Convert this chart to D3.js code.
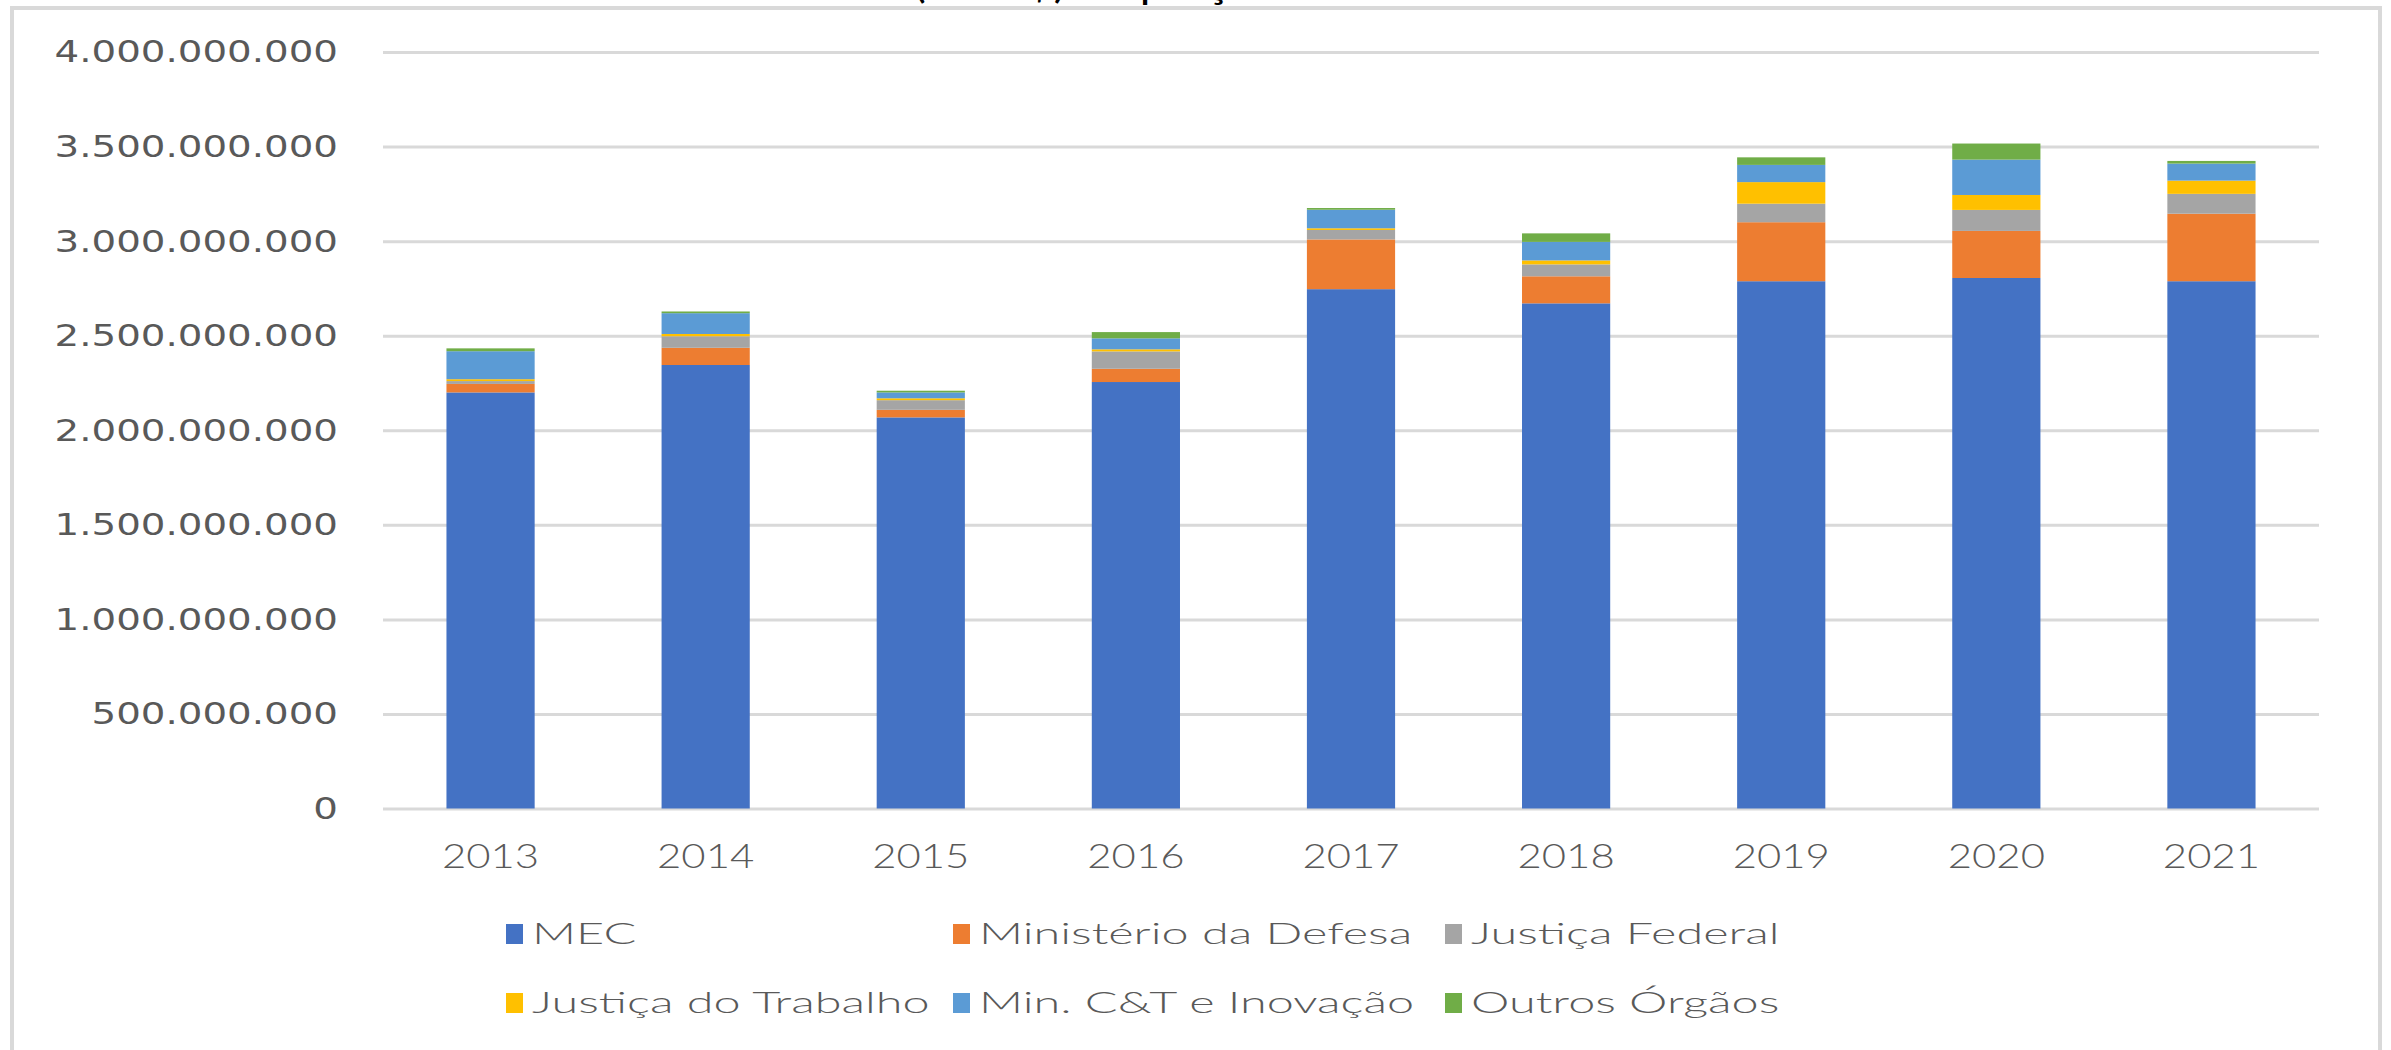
<!DOCTYPE html>
<html>
<head>
<meta charset="utf-8">
<script src="https://cdn.jsdelivr.net/npm/d3@7"></script>
<style>
  body { margin: 0; background: #fff; }
  svg { display: block; }
</style>
</head>
<body>
<svg id="chart"></svg>
<script>
// valores (R$)
const years = ["2013", "2014", "2015", "2016", "2017", "2018", "2019", "2020", "2021"];
const mec      = [2200000000, 2345000000, 2068000000, 2255000000, 2746000000, 2671000000, 2788000000, 2805000000, 2788000000];
const defesa   = [45000000, 91000000, 40000000, 70000000, 263000000, 143000000, 312000000, 249000000, 357000000];
const jusFed   = [15000000, 61000000, 51000000, 92000000, 50000000, 63000000, 98000000, 111000000, 105000000];
const jusTrab  = [10000000, 12000000, 10000000, 11000000, 9000000, 21000000, 114000000, 79000000, 70000000];
const minCT    = [148000000, 110000000, 31000000, 58000000, 98000000, 98000000, 91000000, 187000000, 90000000];
const outros   = [15000000, 9000000, 9000000, 33000000, 9000000, 45000000, 40000000, 85000000, 14000000];

const seriesNames = ["MEC", "Ministério da Defesa", "Justiça Federal", "Justiça do Trabalho", "Min. C&T e Inovação", "Outros Órgãos"];
const seriesValues = [mec, defesa, jusFed, jusTrab, minCT, outros];
const colors = ["#4472C4", "#ED7D31", "#A5A5A5", "#FFC000", "#5B9BD5", "#70AD47"];
const yTicks = [0, 500000000, 1000000000, 1500000000, 2000000000, 2500000000, 3000000000, 3500000000, 4000000000];
const titleText = "Valores totais (em R$) de preços de dezembro de 2021";

const W = 2391, H = 1050;
const margin = { top: 52, right: 72, bottom: 241.5, left: 383 };
const plotW = W - margin.left - margin.right;

const rows = years.map((yr, i) => {
    const r = { year: yr };
    seriesNames.forEach((s, k) => r[s] = seriesValues[k][i]);
    return r;
});
const stacked = d3.stack().keys(seriesNames)(rows);

const svg = d3.select("#chart")
    .attr("width", W)
    .attr("height", H);

svg.append("rect").attr("width", W).attr("height", H).attr("fill", "#fff");

// título (cortado no topo, como no original)
svg.append("text")
    .attr("x", 630)
    .attr("y", -3)
    .style("font-family", "Lato, sans-serif")
    .style("font-size", "46px")
    .style("fill", "#000")
    .text(titleText);

// moldura
svg.append("rect")
    .attr("x", 12).attr("y", 8)
    .attr("width", 2368).attr("height", 1120)
    .attr("fill", "none")
    .attr("stroke", "#d9d9d9")
    .attr("stroke-width", 4);

const x = d3.scaleBand()
    .domain(years)
    .range([margin.left, W - margin.right])
    .paddingInner(0.59)
    .paddingOuter(0.295);

const y = d3.scaleLinear()
    .domain([0, 4000000000])
    .range([H - margin.bottom, margin.top]);

const ptBR = d3.formatLocale({ decimal: ",", thousands: ".", grouping: [3], currency: ["R$", ""] });
const fmt = ptBR.format(",");

// eixo y + grade
const ySx = 1.25;
const yAxis = svg.append("g")
    .attr("transform", `translate(${margin.left},0)`)
    .call(d3.axisLeft(y).tickValues(yTicks).tickFormat(fmt).tickSize(-plotW).tickPadding(45));
yAxis.select(".domain").remove();
yAxis.selectAll(".tick line")
    .attr("stroke", "#d9d9d9")
    .attr("stroke-width", 3);
yAxis.selectAll(".tick text")
    .attr("x", -45 / ySx)
    .attr("transform", `scale(${ySx},1)`)
    .style("font-family", "'DejaVu Sans', sans-serif")
    .style("font-size", "31px")
    .style("fill", "#595959");

// barras empilhadas
svg.append("g")
    .selectAll("g")
    .data(stacked)
    .join("g")
    .attr("fill", (d, i) => colors[i])
    .selectAll("rect")
    .data(d => d)
    .join("rect")
    .attr("x", d => x(d.data.year))
    .attr("y", d => y(d[1]))
    .attr("width", x.bandwidth())
    .attr("height", d => y(d[0]) - y(d[1]));

// eixo x
const xSx = 1.27;
const xAxis = svg.append("g")
    .attr("transform", `translate(0,${H - margin.bottom})`)
    .call(d3.axisBottom(x).tickSize(0));
xAxis.select(".domain").remove();
xAxis.selectAll(".tick text")
    .attr("y", 60)
    .attr("dy", 0)
    .attr("transform", `scale(${xSx},1)`)
    .style("font-family", "Lato, sans-serif")
    .style("font-weight", 300)
    .style("font-size", "33px")
    .style("fill", "#595959");

// legenda
const legX = [506, 953, 1445];
const legY = [934, 1003];
const lSx = 1.62;
const legend = svg.append("g")
    .selectAll("g")
    .data(seriesNames)
    .join("g")
    .attr("transform", (d, i) => `translate(${legX[i % 3]},${legY[Math.floor(i / 3)]})`);
legend.append("rect")
    .attr("x", 0).attr("y", -10)
    .attr("width", 17).attr("height", 20)
    .attr("fill", (d, i) => colors[i]);
legend.append("text")
    .attr("x", 26 / lSx)
    .attr("y", 10)
    .attr("transform", `scale(${lSx},1)`)
    .style("font-family", "Lato, sans-serif")
    .style("font-weight", 300)
    .style("font-size", "30px")
    .style("fill", "#595959")
    .text(d => d);
</script>
</body>
</html>
